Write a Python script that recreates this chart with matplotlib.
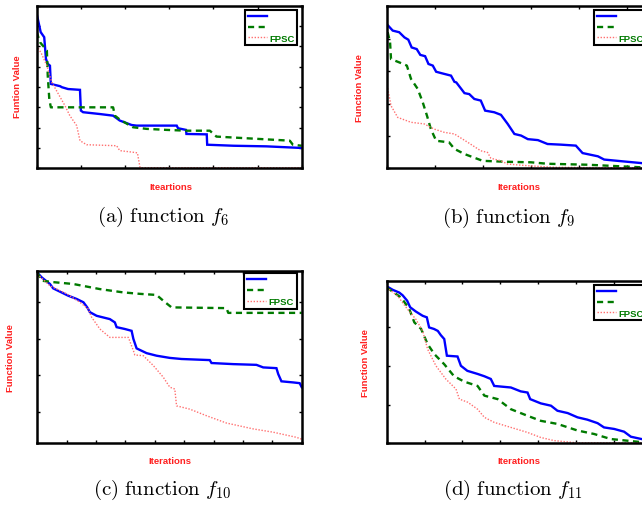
import matplotlib
matplotlib.use("Agg")
import matplotlib.pyplot as plt

plt.rcParams['mathtext.fontset'] = 'cm'

W, H = 642, 506

# ---------------- data ----------------
# panel (a) f6
a_blue_x = [0, 9, 17, 21, 25, 30, 32, 53, 57, 71, 98, 100, 105, 143, 173, 188, 215, 226, 317, 320, 338, 339, 385, 386, 445, 520, 600]
a_blue_y = [7.6, 6.7, 6.45, 5.38, 5.14, 5.05, 4.15, 4.04, 3.99, 3.9, 3.86, 2.84, 2.76, 2.67, 2.59, 2.35, 2.13, 2.1, 2.1, 1.97, 1.89, 1.69, 1.67, 1.16, 1.11, 1.08, 1.0]
a_green_x = [0, 7.5, 23, 25, 28.5, 32, 173, 177, 188, 218, 249, 294, 339, 392, 407, 573, 580, 600]
a_green_y = [6.7, 6.2, 5.8, 4.56, 3.41, 3.0, 3.0, 2.59, 2.4, 2.02, 1.94, 1.89, 1.85, 1.85, 1.56, 1.36, 1.16, 1.11]
a_red_x = [0, 11, 23, 34, 49, 64, 75, 90.5, 98, 113, 181, 188, 218, 228, 234, 600]
a_red_y = [6.04, 5.63, 5.05, 4.24, 3.66, 3.08, 2.59, 2.1, 1.36, 1.16, 1.11, 0.87, 0.79, 0.76, 0.03, 0.03]

# panel (b) f9
b_blue_x = [2, 12.5, 26, 37, 45, 52, 62.5, 70, 80, 87, 96, 103, 113, 134, 141, 145, 162, 172, 182.5, 196, 205, 224, 238, 252, 266, 280, 294, 315, 335, 363, 394, 408, 440, 453, 488, 531, 552]
b_blue_y = [4.42, 4.25, 4.2, 4.04, 3.97, 3.73, 3.68, 3.5, 3.46, 3.22, 3.17, 2.98, 2.94, 2.86, 2.67, 2.65, 2.32, 2.29, 2.14, 2.09, 1.78, 1.73, 1.65, 1.37, 1.06, 1.01, 0.9, 0.87, 0.75, 0.73, 0.7, 0.47, 0.37, 0.27, 0.22, 0.16, 0.14]
b_green_x = [2, 7, 9, 26, 42, 50.6, 64.6, 75, 84, 92, 103, 130, 141, 162, 200, 252, 300.6, 335, 419, 531, 552]
b_green_y = [4.2, 3.89, 3.37, 3.27, 3.17, 2.76, 2.45, 2.04, 1.62, 1.21, 0.85, 0.8, 0.6, 0.44, 0.23, 0.2, 0.185, 0.14, 0.11, 0.03, 0.02]
b_red_x = [2, 9, 23, 50.6, 78, 99, 120, 141, 169, 196, 210, 217, 238, 252, 294, 349, 552]
b_red_y = [2.47, 1.93, 1.57, 1.42, 1.37, 1.21, 1.11, 1.06, 0.8, 0.54, 0.49, 0.31, 0.23, 0.13, 0.08, 0.03, 0.01]

# panel (c) f10
c_blue_x = [0, 15, 43, 54, 77, 105, 134, 157, 170, 179, 202, 247, 264, 270, 298, 321, 327, 338, 372, 406, 451, 491, 587, 593, 667, 746, 769, 814, 820, 831, 871, 893, 900]
c_blue_y = [3.8, 3.67, 3.49, 3.37, 3.28, 3.17, 3.08, 2.99, 2.85, 2.72, 2.62, 2.53, 2.44, 2.31, 2.26, 2.21, 1.99, 1.73, 1.6, 1.53, 1.47, 1.44, 1.41, 1.33, 1.3, 1.28, 1.21, 1.19, 1.03, 0.83, 0.8, 0.78, 0.67]
c_green_x = [0, 15, 54, 122, 213, 292, 349, 406, 429, 457, 644, 650, 900]
c_green_y = [3.81, 3.58, 3.54, 3.49, 3.35, 3.26, 3.22, 3.19, 3.03, 2.85, 2.83, 2.7, 2.7]
c_red_x = [0, 43, 100, 145, 173, 185, 213, 247, 310, 327, 332, 361, 395, 429, 451, 468, 474, 519, 576, 644, 735, 803, 882, 900]
c_red_y = [3.76, 3.44, 3.22, 2.99, 2.81, 2.58, 2.26, 2.03, 2.03, 1.67, 1.55, 1.53, 1.26, 0.94, 0.67, 0.62, 0.16, 0.07, -0.11, -0.31, -0.47, -0.56, -0.7, -0.75]

# panel (d) f11
d_blue_x = [0, 16, 33, 42, 54, 62, 77, 95, 106, 112, 125, 135, 143, 152, 159, 187, 196, 213, 240, 258, 275, 284, 328, 354, 372, 379, 407, 434, 451, 478, 504, 530, 557, 574, 601, 627, 645, 673, 700]
d_blue_y = [4.05, 3.96, 3.89, 3.82, 3.68, 3.51, 3.4, 3.29, 3.25, 2.99, 2.95, 2.9, 2.79, 2.69, 2.26, 2.24, 2.0, 1.87, 1.79, 1.73, 1.66, 1.48, 1.44, 1.34, 1.31, 1.14, 1.03, 0.97, 0.84, 0.78, 0.67, 0.61, 0.52, 0.41, 0.37, 0.3, 0.17, 0.11, 0.08]
d_green_x = [0, 38, 59, 73, 91, 108, 126, 152, 178, 205, 240, 258, 293, 328, 372, 407, 451, 504, 548, 592, 673, 700]
d_green_y = [4.02, 3.76, 3.48, 3.12, 2.95, 2.56, 2.3, 2.04, 1.73, 1.59, 1.48, 1.23, 1.14, 0.88, 0.71, 0.58, 0.5, 0.33, 0.24, 0.11, 0.03, 0.02]
d_red_x = [0, 29, 55, 77, 95, 108, 130, 156, 183, 192, 214, 240, 258, 284, 328, 372, 407, 442, 504, 700]
d_red_y = [4.02, 3.8, 3.46, 3.2, 2.9, 2.43, 2.0, 1.66, 1.4, 1.14, 1.06, 0.88, 0.67, 0.54, 0.41, 0.28, 0.15, 0.07, 0.01, 0.01]

legend_labels = ['', '', 'FPSC']
ylabels = ['Funtion Value', 'Function Value', 'Function Value', 'Function Value']
xlabels = ['Iteartions', 'Iterations', 'Iterations', 'Iterations']
captions = [r'$\mathrm{(a)\ function}\ f_{6}$', r'$\mathrm{(b)\ function}\ f_{9}$',
            r'$\mathrm{(c)\ function}\ f_{10}$', r'$\mathrm{(d)\ function}\ f_{11}$']

panels = [
    dict(blue=(a_blue_x, a_blue_y), green=(a_green_x, a_green_y), red=(a_red_x, a_red_y),
         box=(36.7, 6.7, 265, 162.6), xlim=(0, 600), ylim=(0, 8), xt=range(0, 601, 100), yt=range(0, 9),
         leg=(245, 10.5), ylab=(17, 87), xlab=(171, 188), cap=(163, 217)),
    dict(blue=(b_blue_x, b_blue_y), green=(b_green_x, b_green_y), red=(b_red_x, b_red_y),
         box=(386.7, 7.3, 265, 162), xlim=(0, 552), ylim=(0, 5), xt=range(0, 501, 100), yt=range(0, 6),
         leg=(594.3, 10.5), ylab=(360, 88), xlab=(519, 187.5), cap=(509, 218)),
    dict(blue=(c_blue_x, c_blue_y), green=(c_green_x, c_green_y), red=(c_red_x, c_red_y),
         box=(37.3, 272.3, 264.4, 171.7), xlim=(0, 900), ylim=(-0.855, 3.836), xt=range(0, 901, 100), yt=range(0, 4),
         leg=(244.3, 274), ylab=(10.5, 358), xlab=(170, 462), cap=(162.5, 490)),
    dict(blue=(d_blue_x, d_blue_y), green=(d_green_x, d_green_y), red=(d_red_x, d_red_y),
         box=(386.7, 282.3, 265, 162), xlim=(0, 700), ylim=(0, 4.18), xt=range(0, 701, 100), yt=range(0, 5),
         leg=(594.3, 285.5), ylab=(365, 363.5), xlab=(519, 462), cap=(512.7, 489.5)),
]

fig = plt.figure(figsize=(W / 100, H / 100), dpi=100)

BLUE = '#0000ff'
GREEN = '#007a00'
RED = '#ff7070'

for p, yl, xl, cap in zip(panels, ylabels, xlabels, captions):
    l, t, w, h = p['box']
    ax = fig.add_axes([l / W, 1 - (t + h) / H, w / W, h / H])
    hb, = ax.plot(*p['blue'], color=BLUE, lw=1.7, solid_joinstyle='miter')
    hg, = ax.plot(*p['green'], color=GREEN, lw=1.7, ls=(0, (2.6, 1.9)))
    hr, = ax.plot(*p['red'], color=RED, lw=1.0, ls=(0, (1, 1.2)))
    ax.set_xlim(*p['xlim'])
    ax.set_ylim(*p['ylim'])
    ax.set_xticks(list(p['xt']))
    ax.set_yticks(list(p['yt']))
    ax.tick_params(direction='in', length=2.5, width=1.0, top=True, right=True,
                   labelbottom=False, labelleft=False, color='black')
    for s in ax.spines.values():
        s.set_linewidth(1.8)
        s.set_color('black')
    leg = ax.legend([hb, hg, hr], legend_labels, loc='upper left',
                    bbox_to_anchor=(p['leg'][0] / W, 1 - p['leg'][1] / H),
                    bbox_transform=fig.transFigure, borderaxespad=0,
                    prop=dict(family='Liberation Sans', weight='bold', size=6.8),
                    handlelength=2.0, handletextpad=0.3, labelspacing=0.18,
                    borderpad=0.28, fancybox=False, framealpha=1, edgecolor='black')
    leg.get_frame().set_linewidth(1.5)
    for tx in leg.get_texts():
        tx.set_color(GREEN)
    fig.text(p['ylab'][0] / W, 1 - p['ylab'][1] / H, yl, rotation=90, ha='center', va='center',
             color='#ff2020', fontsize=6.8, fontweight='bold', family='Liberation Sans')
    fig.text(p['xlab'][0] / W, 1 - p['xlab'][1] / H, xl, ha='center', va='center',
             color='#ff2020', fontsize=6.8, fontweight='bold', family='Liberation Sans')
    fig.text(p['cap'][0] / W, 1 - p['cap'][1] / H, cap, ha='center', va='center',
             fontsize=15, color='black')

fig.savefig('out.png', dpi=100)
